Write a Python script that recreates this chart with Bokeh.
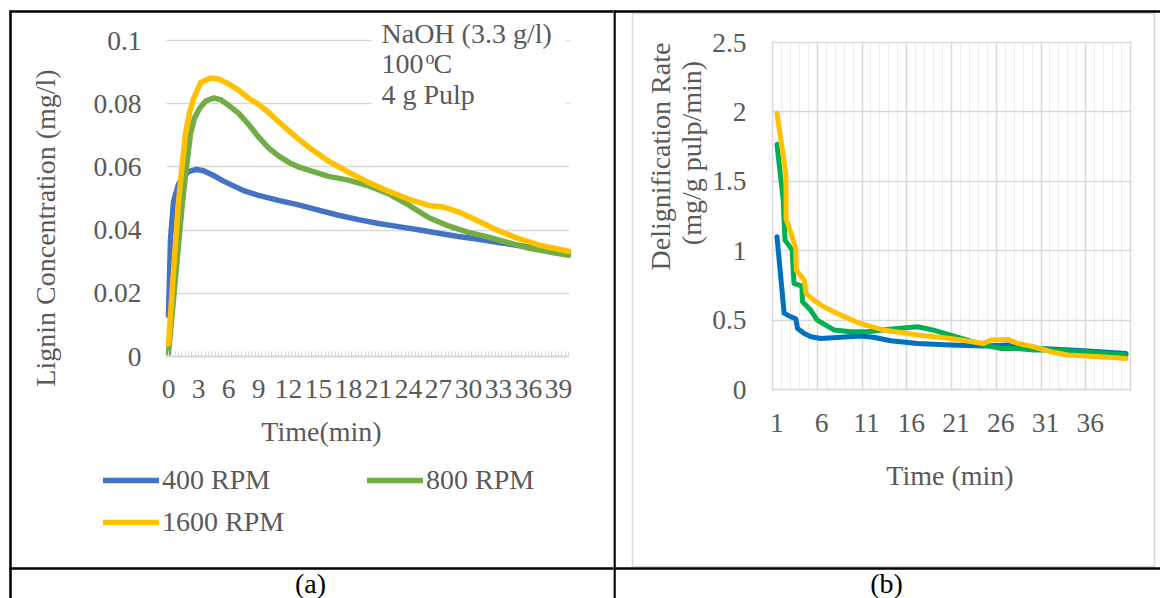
from math import pi
from bokeh.plotting import figure
from bokeh.models import (Range1d, FixedTicker, NumeralTickFormatter, Label, Legend,
                          LegendItem, BoxAnnotation, PolyAnnotation)
from bokeh.layouts import row
from bokeh.embed import file_html
from bokeh.resources import INLINE

# ---------------- data: panel (a) lignin concentration ----------------
t_400 = [0, 0.2, 0.5, 1, 1.5, 2, 2.8, 3.5, 4.5, 5.5, 6.5, 7.5, 9, 11, 13, 15, 17, 19,
         21, 23, 25, 27, 29, 31, 33, 35, 37, 40]
c_400 = [0.013, 0.037, 0.049, 0.0545, 0.057, 0.0585, 0.0592, 0.0588, 0.0573, 0.0555,
         0.054, 0.0525, 0.051, 0.0494, 0.048, 0.0463, 0.0447, 0.0433, 0.0421, 0.0411,
         0.0401, 0.039, 0.038, 0.0371, 0.0361, 0.0351, 0.0341, 0.0327]

t_800 = [0, 0.7, 1.4, 1.8, 2.2, 2.6, 3.1, 3.7, 4.5, 5.2, 6, 7, 8, 9, 10, 11, 12, 13, 14,
         16, 18, 20, 22, 24, 26, 28, 30, 32, 34, 36, 38, 40]
c_800 = [0.001, 0.025, 0.049, 0.060, 0.0705, 0.0755, 0.0785, 0.0808, 0.0818, 0.0813,
         0.0795, 0.077, 0.0735, 0.0695, 0.066, 0.0635, 0.0615, 0.06, 0.059, 0.057,
         0.0558, 0.054, 0.0515, 0.048, 0.044, 0.0413, 0.0393, 0.0378, 0.036, 0.0343,
         0.0331, 0.032]

t_1600 = [0, 0.5, 1, 1.35, 1.7, 2.1, 2.5, 3.2, 4.2, 5, 6, 7, 8, 9, 10, 11, 12, 13, 14,
          16, 18, 20, 22, 24, 26, 27.5, 29, 31, 33, 35, 37, 40]
c_1600 = [0.004, 0.027, 0.049, 0.060, 0.0705, 0.077, 0.0815, 0.0866, 0.0881, 0.0878,
          0.0863, 0.0843, 0.0818, 0.0798, 0.0773, 0.0743, 0.0715, 0.0688, 0.0663,
          0.0618, 0.0583, 0.0551, 0.0523, 0.0498, 0.0478, 0.0473, 0.0458, 0.0428,
          0.0398, 0.0373, 0.0353, 0.0333]

# ---------------- data: panel (b) delignification rate ----------------
tb_400 = [1, 1.8, 2.5, 3.1, 3.3, 4.0, 4.8, 5.9, 8.1, 10.3, 11.8, 13.7, 16.7, 20.4,
          24.1, 26.8, 28.2, 31.6, 35.3, 40]
r_400 = [1.10, 0.55, 0.525, 0.51, 0.44, 0.405, 0.38, 0.368, 0.376, 0.385, 0.376, 0.351,
         0.332, 0.32, 0.313, 0.32, 0.30, 0.291, 0.279, 0.26]

tb_800 = [1, 1.7, 1.9, 2.7, 2.9, 3.8, 3.85, 4.75, 5.5, 7.4, 9.2, 11.1, 13.3, 16.7, 18.5,
          20.4, 22.3, 24.1, 26, 27.9, 29.7, 31.6, 35.3, 40]
r_800 = [1.766, 1.363, 1.076, 1.004, 0.764, 0.745, 0.632, 0.572, 0.50, 0.428, 0.416,
         0.416, 0.433, 0.452, 0.428, 0.392, 0.356, 0.32, 0.296, 0.296, 0.284, 0.284,
         0.272, 0.248]

tb_1600 = [1, 2.0, 2.02, 2.6, 3.1, 3.15, 4.05, 4.25, 5.1, 6.2, 8.1, 10.3, 12.95, 16.7,
           20.4, 24.1, 24.9, 26.75, 27.9, 29.7, 31.6, 33.5, 37.2, 40]
r_1600 = [1.99, 1.555, 1.23, 1.12, 1.016, 0.86, 0.788, 0.692, 0.644, 0.596, 0.536, 0.476,
          0.428, 0.392, 0.368, 0.332, 0.356, 0.361, 0.332, 0.308, 0.272, 0.248, 0.236,
          0.224]

series_names = ["400 RPM", "800 RPM", "1600 RPM"]
colors_a = ["#4472C4", "#70AD47", "#FFC000"]
colors_b = ["#0070C0", "#00B050", "#FFC000"]
ticks_a_y = [0, 0.02, 0.04, 0.06, 0.08, 0.1]
ticks_a_x = [0, 3, 6, 9, 12, 15, 18, 21, 24, 27, 30, 33, 36, 39]
ticks_b_y = [0, 0.5, 1, 1.5, 2, 2.5]
ticks_b_x = [1, 6, 11, 16, 21, 26, 31, 36]

FONT = "Liberation Serif"
TXT = "#595959"
GRID = "#D9D9D9"
FS = "28px"
TFS = "27.5px"

# ---------------- geometry (canvas pixels) ----------------
H = 598
W_A, W_B = 613, 547
OFF_B = W_A
FA_L, FA_R, FA_T, FA_B = 166, 568, 40, 356      # plot area of (a)
XA0, XA1, YA0, YA1 = -0.2, 40.0, 0.0, 0.1
FB_L, FB_R, FB_T, FB_B = 772, 1130, 42, 389     # plot area of (b)
XB0, XB1, YB0, YB1 = 0.5, 40.5, 0.0, 2.5
BASE_FIX = 10   # label anchor correction (pixels)


def xa(px):
    return XA0 + (px - FA_L) * (XA1 - XA0) / (FA_R - FA_L)


def ya(py):
    return YA0 + (FA_B - py) * (YA1 - YA0) / (FA_B - FA_T)


def xb(px):
    return XB0 + (px - FB_L) * (XB1 - XB0) / (FB_R - FB_L)


def yb(py):
    return YB0 + (FB_B - py) * (YB1 - YB0) / (FB_B - FB_T)


def make_fig(w, xr, yr):
    p = figure(width=w, height=H, x_range=xr, y_range=yr, output_backend="svg",
               toolbar_location=None, min_border=0, min_border_left=0,
               min_border_right=0, min_border_top=0, min_border_bottom=0)
    p.outline_line_color = None
    p.background_fill_color = "white"
    p.border_fill_color = "white"
    return p


def lab(p, fx, fy, px, py, text, size=FS, color=TXT, rotated=False, align="left"):
    if rotated:
        x, y, ang = fx(px - BASE_FIX), fy(py), pi / 2
    else:
        x, y, ang = fx(px), fy(py - BASE_FIX), 0
    p.add_layout(Label(x=x, y=y, text=text, text_font=FONT, text_font_size=size,
                       text_color=color, angle=ang, text_align=align,
                       text_baseline="alphabetic"))


def mask(p, left, right, bottom, top):
    p.add_layout(BoxAnnotation(left=left, right=right, bottom=bottom, top=top,
                               fill_color="white", fill_alpha=1, line_color=None,
                               level="underlay"))


def seg(p, xs, ys, color="black", width=2.5):
    p.add_layout(PolyAnnotation(xs=xs, ys=ys, fill_alpha=0, line_alpha=1,
                                line_color=color, line_width=width))


def style_axis(ax, standoff):
    ax.major_tick_out = 0
    ax.minor_tick_out = 0
    ax.major_label_standoff = standoff
    ax.major_label_text_font = FONT
    ax.major_label_text_font_size = TFS
    ax.major_label_text_color = TXT


# ---------------- panel (a) ----------------
pa = make_fig(W_A, Range1d(xa(0), xa(W_A)), Range1d(ya(H), ya(0)))

pa.yaxis.fixed_location = XA0
pa.yaxis.bounds = (YA0, YA1)
pa.yaxis.ticker = FixedTicker(ticks=ticks_a_y)
pa.yaxis.formatter = NumeralTickFormatter(format="0.[00]")
pa.yaxis.axis_line_color = None
pa.yaxis.major_tick_line_color = None
pa.yaxis.minor_tick_line_color = None
style_axis(pa.yaxis, 25)

minor_a = [i / 3 for i in range(0, 121)]
pa.xaxis.fixed_location = YA0
pa.xaxis.bounds = (XA0, XA1)
pa.xaxis.ticker = FixedTicker(ticks=ticks_a_x, minor_ticks=minor_a)
pa.xaxis.axis_line_color = GRID
pa.xaxis.axis_line_width = 2
style_axis(pa.xaxis, 23)
pa.xaxis.major_tick_in = 5
pa.xaxis.minor_tick_in = 5
pa.xaxis.major_tick_line_color = GRID
pa.xaxis.minor_tick_line_color = GRID

pa.xgrid.visible = False
pa.ygrid.ticker = FixedTicker(ticks=ticks_a_y)
pa.ygrid.bounds = (-0.01, 0.11)
pa.ygrid.grid_line_color = GRID
pa.ygrid.grid_line_width = 1.5

# keep grid lines inside the plot area, and blank the text-box background
mask(pa, xa(-20), xa(FA_L), ya(H + 20), ya(-20))
mask(pa, xa(FA_R + 1), xa(W_A + 20), ya(H + 20), ya(-20))
mask(pa, xa(FA_L - 5), xa(FA_R + 5), ya(H + 20), ya(FA_B + 1))
mask(pa, xa(371), xa(566), ya(118), ya(14))

ra = []
for (tt, cc), col in zip([(t_400, c_400), (t_800, c_800), (t_1600, c_1600)], colors_a):
    ra.append(pa.line(tt, cc, line_color=col, line_width=5.5, line_cap="round",
                      line_join="round"))

leg1 = Legend(items=[LegendItem(label=series_names[0], renderers=[ra[0]]),
                     LegendItem(label=series_names[2], renderers=[ra[2]])],
              location=(103, H - 538), orientation="vertical")
leg2 = Legend(items=[LegendItem(label=series_names[1], renderers=[ra[1]])],
              location=(367, H - 496), orientation="vertical")
for lg in (leg1, leg2):
    lg.glyph_width = 56
    lg.glyph_height = 32
    lg.label_height = 32
    lg.label_standoff = 3
    lg.spacing = 10
    lg.padding = 0
    lg.margin = 0
    lg.border_line_color = None
    lg.background_fill_alpha = 0
    lg.label_text_font = FONT
    lg.label_text_font_size = FS
    lg.label_text_color = TXT
    pa.add_layout(lg)

lab(pa, xa, ya, 55, 227.5, "Lignin Concentration (mg/l)", rotated=True, align="center")
lab(pa, xa, ya, 321, 441, "Time(min)", align="center")
lab(pa, xa, ya, 381, 43, "NaOH (3.3 g/l)")
lab(pa, xa, ya, 381, 73, "100")
lab(pa, xa, ya, 425, 67, "o", size="18px")
lab(pa, xa, ya, 433, 73, "C")
lab(pa, xa, ya, 381, 104, "4 g Pulp")
lab(pa, xa, ya, 310, 593, "(a)", color="#000000", align="center")

# table lines (left cell)
seg(pa, [xa(9), xa(W_A + 2)], [ya(11), ya(11)])
seg(pa, [xa(10), xa(10)], [ya(10), ya(H + 2)])
seg(pa, [xa(9), xa(W_A + 2)], [ya(568), ya(568)])

# ---------------- panel (b) ----------------
pb = make_fig(W_B, Range1d(xb(OFF_B), xb(OFF_B + W_B)), Range1d(yb(H), yb(0)))

pb.yaxis.fixed_location = XB0
pb.yaxis.bounds = (YB0, YB1)
pb.yaxis.ticker = FixedTicker(ticks=ticks_b_y)
pb.yaxis.formatter = NumeralTickFormatter(format="0.[0]")
pb.yaxis.axis_line_color = None
pb.yaxis.major_tick_line_color = None
pb.yaxis.minor_tick_line_color = None
style_axis(pb.yaxis, 26)

pb.xaxis.fixed_location = YB0
pb.xaxis.bounds = (XB0, XB1)
pb.xaxis.ticker = FixedTicker(ticks=ticks_b_x)
pb.xaxis.axis_line_color = GRID
pb.xaxis.axis_line_width = 1.5
pb.xaxis.major_tick_line_color = None
pb.xaxis.minor_tick_line_color = None
style_axis(pb.xaxis, 24)

pb.xgrid.ticker = FixedTicker(ticks=[XB0 + 5 * i for i in range(9)],
                              minor_ticks=[XB0 + i for i in range(41)])
pb.xgrid.bounds = (0, 41)
pb.xgrid.grid_line_color = GRID
pb.xgrid.grid_line_width = 1.5
pb.xgrid.minor_grid_line_color = "#EDEDED"
pb.xgrid.minor_grid_line_width = 1.2
pb.ygrid.ticker = FixedTicker(ticks=ticks_b_y)
pb.ygrid.bounds = (-0.1, 2.6)
pb.ygrid.grid_line_color = GRID
pb.ygrid.grid_line_width = 1.5

mask(pb, xb(OFF_B - 20), xb(FB_L - 1), yb(H + 20), yb(-20))
mask(pb, xb(FB_R + 1), xb(1200), yb(H + 20), yb(-20))
mask(pb, xb(FB_L - 5), xb(FB_R + 5), yb(FB_T - 1), yb(-20))
mask(pb, xb(FB_L - 5), xb(FB_R + 5), yb(H + 20), yb(FB_B + 1))

for (tt, rr), col in zip([(tb_400, r_400), (tb_800, r_800), (tb_1600, r_1600)], colors_b):
    pb.line(tt, rr, line_color=col, line_width=5, line_cap="round", line_join="round")

lab(pb, xb, yb, 670, 156, "Delignification Rate", rotated=True, align="center")
lab(pb, xb, yb, 701, 152.5, "(mg/g pulp/min)", rotated=True, align="center")
lab(pb, xb, yb, 949.5, 485, "Time (min)", align="center")
lab(pb, xb, yb, 886, 593, "(b)", color="#000000", align="center")

# chart-area border of (b)
seg(pb, [xb(632), xb(1154), xb(1154), xb(632)], [yb(13), yb(13), yb(566), yb(566)],
    color=GRID, width=1.5)
# table lines (right cell)
seg(pb, [xb(OFF_B - 2), xb(1165)], [yb(11), yb(11)])
seg(pb, [xb(614), xb(614)], [yb(10), yb(H + 2)])
seg(pb, [xb(OFF_B - 2), xb(1165)], [yb(568), yb(568)])

layout = row(pa, pb)
open("out.html", "w").write(file_html(layout, INLINE))
